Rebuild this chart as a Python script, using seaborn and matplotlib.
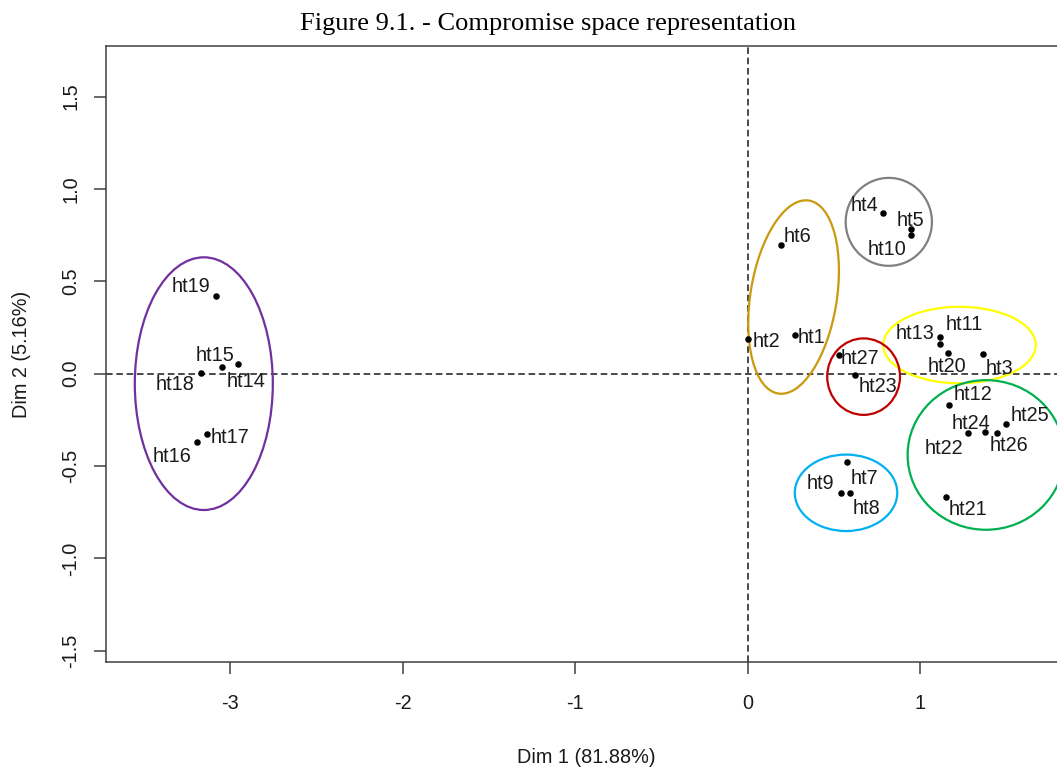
import matplotlib
matplotlib.use("Agg")
import matplotlib.pyplot as plt
from matplotlib.patches import Ellipse
import seaborn as sns
import pandas as pd

# Individual coordinates on the first two compromise dimensions
labels = ["ht1", "ht2", "ht3", "ht4", "ht5", "ht6", "ht7", "ht8", "ht9",
          "ht10", "ht11", "ht12", "ht13", "ht14", "ht15", "ht16", "ht17",
          "ht18", "ht19", "ht20", "ht21", "ht22", "ht23", "ht24", "ht25",
          "ht26", "ht27"]
dim1 = [0.273, 0.003, 1.362, 0.786, 0.946, 0.190, 0.575, 0.592, 0.538,
        0.946, 1.116, 1.164, 1.116, -2.956, -3.048, -3.191, -3.137,
        -3.170, -3.086, 1.158, 1.149, 1.276, 0.621, 1.375, 1.497,
        1.442, 0.530]
dim2 = [0.210, 0.188, 0.105, 0.868, 0.783, 0.695, -0.480, -0.648, -0.648,
        0.749, 0.161, -0.169, 0.200, 0.051, 0.035, -0.371, -0.326,
        0.005, 0.421, 0.110, -0.668, -0.319, -0.009, -0.316, -0.274,
        -0.321, 0.100]

# Cluster outlines: centre, full width, full height, rotation, colour
cluster_cx = [-3.154, 0.265, 0.817, 1.227, 0.671, 0.569, 1.380]
cluster_cy = [-0.054, 0.415, 0.822, 0.155, -0.016, -0.645, -0.440]
cluster_w = [0.80, 1.06, 0.50, 0.884, 0.422, 0.594, 0.908]
cluster_h = [1.368, 0.50, 0.476, 0.414, 0.414, 0.414, 0.810]
cluster_angle = [0, 80, 0, 0, 0, 0, 0]
cluster_color = ["#7030A0", "#C99A0E", "#808080", "#FFFF00", "#C00000",
                 "#00B0F0", "#00B050"]

# Label placement around each point (pixels, y upward)
label_offset = {
    "ht1": (17, -3), "ht2": (18, -3), "ht3": (17, -14), "ht4": (-19, 8),
    "ht5": (-1, 9), "ht6": (17, 9), "ht7": (17, -16), "ht8": (17, -15),
    "ht9": (-20, 10), "ht10": (-24, -14), "ht11": (24, 19), "ht12": (24, 10),
    "ht13": (-25, 3), "ht14": (8, -17), "ht15": (-7, 12), "ht16": (-25, -14),
    "ht17": (23, -4), "ht18": (-26, -12), "ht19": (-25, 9), "ht20": (-1, -13),
    "ht21": (22, -12), "ht22": (-24, -16), "ht23": (23, -11), "ht24": (-14, 9),
    "ht25": (24, 9), "ht26": (12, -13), "ht27": (21, -3),
}

df = pd.DataFrame({"label": labels, "Dim1": dim1, "Dim2": dim2})

sns.set_theme(style="white")
plt.rcParams["font.family"] = ["Liberation Sans", "DejaVu Sans"]

FS = 14.3
fig = plt.figure(figsize=(10.57, 7.69), dpi=100)
ax = fig.add_axes([106 / 1057, 1 - 662.3 / 769, 961 / 1057, 616.3 / 769])

ref_style = dict(color="#4a4a4a", lw=1.4, ls=(0, (3.4, 1.9)), zorder=1)
ax.axvline(0, **ref_style)
ax.axhline(0, **ref_style)

for cx, cy, w, h, a, c in zip(cluster_cx, cluster_cy, cluster_w, cluster_h,
                              cluster_angle, cluster_color):
    ax.add_patch(Ellipse((cx, cy), w, h, angle=a, fill=False,
                         edgecolor=c, lw=1.6, zorder=2))

sns.scatterplot(data=df, x="Dim1", y="Dim2", color="black", s=22,
                linewidth=0, ax=ax, zorder=3)

for lab, xv, yv in zip(labels, dim1, dim2):
    dx, dy = label_offset[lab]
    ax.annotate(lab, (xv, yv), xytext=(dx, dy), textcoords="offset pixels",
                ha="center", va="center", fontsize=FS, color="#1a1a1a",
                zorder=4)

ax.set_xlim(-3.721, 1.850)
ax.set_ylim(-1.5625, 1.774)
ax.set_xticks([-3, -2, -1, 0, 1])
ax.set_xticklabels(["-3", "-2", "-1", "0", "1"])
ax.set_yticks([-1.5, -1.0, -0.5, 0.0, 0.5, 1.0, 1.5])
ax.set_yticklabels(["-1.5", "-1.0", "-0.5", "0.0", "0.5", "1.0", "1.5"])

for side in ["left", "top", "bottom", "right"]:
    ax.spines[side].set_color("#404040")
    ax.spines[side].set_linewidth(1.1)

ax.tick_params(axis="both", direction="out", length=8.6, width=1.1,
               color="#404040", labelsize=FS, labelcolor="#1a1a1a",
               left=True, bottom=True)
ax.tick_params(axis="x", pad=14)
ax.tick_params(axis="y", pad=10)
plt.setp(ax.get_yticklabels(), rotation=90, va="center")

ax.set_xlabel("Dim 1 (81.88%)", fontsize=FS, color="#1a1a1a")
ax.set_ylabel("Dim 2 (5.16%)", fontsize=FS, color="#1a1a1a")
ax.xaxis.set_label_coords(0.5, -0.155)
ax.xaxis.label.set_va("center")
ax.yaxis.set_label_coords((21.7 - 106) / 961, 0.5)
ax.yaxis.label.set_va("center")

fig.text(548.5 / 1057, 1 - 24 / 769, "Figure 9.1. - Compromise space representation",
         ha="center", va="center", fontsize=19,
         family=["Liberation Serif", "DejaVu Serif"], color="black")

fig.savefig("out.png", dpi=100)
